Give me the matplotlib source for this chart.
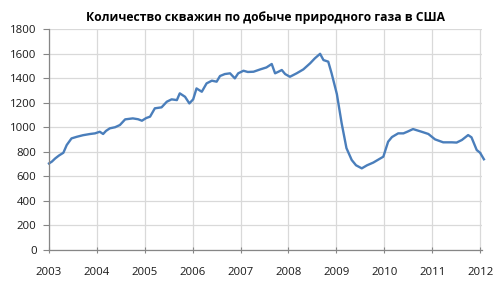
import matplotlib
matplotlib.use("Agg")
import matplotlib.pyplot as plt

title = "Количество скважин по добыче природного газа в США"
years = [2003.00, 2003.06, 2003.13, 2003.21, 2003.30, 2003.37, 2003.47, 2003.58, 2003.71, 2003.86,
         2003.96, 2004.06, 2004.13, 2004.19, 2004.27, 2004.38, 2004.48, 2004.59, 2004.75, 2004.86,
         2004.94, 2005.03, 2005.11, 2005.21, 2005.35, 2005.46, 2005.56, 2005.67, 2005.73, 2005.84,
         2005.93, 2006.01, 2006.08, 2006.19, 2006.29, 2006.40, 2006.50, 2006.57, 2006.67, 2006.78,
         2006.88, 2006.95, 2007.06, 2007.15, 2007.27, 2007.41, 2007.54, 2007.65, 2007.72, 2007.79,
         2007.86, 2007.93, 2008.03, 2008.17, 2008.31, 2008.45, 2008.55, 2008.66, 2008.73, 2008.83,
         2008.90, 2009.01, 2009.11, 2009.21, 2009.32, 2009.41, 2009.53, 2009.64, 2009.77, 2009.87,
         2009.98, 2010.08, 2010.16, 2010.29, 2010.40, 2010.49, 2010.60, 2010.78, 2010.92, 2011.06,
         2011.23, 2011.41, 2011.51, 2011.62, 2011.75, 2011.82, 2011.93, 2012.00, 2012.08]
wells = [705, 720, 746, 770, 792, 855, 909, 922, 935, 945,
         950, 963, 945, 970, 991, 1000, 1018, 1064, 1072, 1065,
         1053, 1075, 1086, 1154, 1162, 1208, 1227, 1221, 1276, 1248,
         1194, 1227, 1316, 1289, 1357, 1379, 1371, 1417, 1433, 1439,
         1398, 1439, 1460, 1450, 1452, 1471, 1487, 1515, 1439, 1452,
         1466, 1433, 1411, 1439, 1471, 1520, 1561, 1598, 1547, 1534,
         1439, 1270, 1032, 830, 733, 690, 665, 690, 712, 735,
         760, 882, 920, 950, 950, 965, 985, 963, 945, 901,
         877, 877, 875, 896, 936, 918, 814, 792, 739]
x_ticks = list(range(2003, 2013))
y_ticks = list(range(0, 1801, 200))

plt.rcParams['font.family'] = ['Open Sans', 'DejaVu Sans']

fig = plt.figure(figsize=(4.98, 2.91), dpi=100)
ax = fig.add_axes([49/498, 41/291, 433/498, 221/291])
ax.plot(years, wells, color='#4A7EBB', lw=1.7, clip_on=False, solid_joinstyle='round')
ax.set_xlim(2003, 2012.04)
ax.set_ylim(0, 1800)
ax.set_xticks(x_ticks)
ax.set_yticks(y_ticks)
ax.set_xticklabels([str(t) for t in x_ticks])
ax.grid(True, color='#D9D9D9', lw=0.9)
ax.set_axisbelow(True)
for s in ['top', 'right']:
    ax.spines[s].set_visible(False)
for s in ['left', 'bottom']:
    ax.spines[s].set_color('#868686')
    ax.spines[s].set_linewidth(0.9)
ax.tick_params(axis='y', direction='out', length=4, color='#868686', labelsize=8.2, pad=5, labelcolor='#1a1a1a')
ax.tick_params(axis='x', direction='inout', length=5, color='#868686', labelsize=8.2, pad=10, labelcolor='#1a1a1a')
fig.text(266/498, 1 - 17/291, title, ha='center', va='center', fontsize=8.7, fontweight='bold', color='#000000')
fig.savefig('out.png', dpi=100)
